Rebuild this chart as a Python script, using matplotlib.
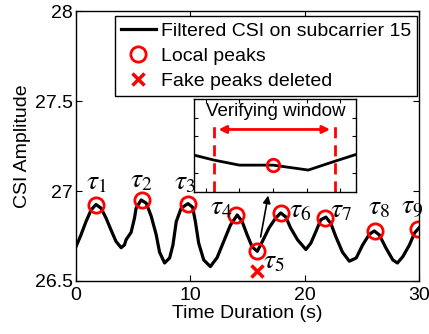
import matplotlib
matplotlib.use("Agg")
import matplotlib.pyplot as plt

plt.rcParams['font.family'] = ['Liberation Sans', 'DejaVu Sans']
plt.rcParams['mathtext.fontset'] = 'stix'

# filtered CSI curve
t = [0, 0.44, 0.88, 1.32, 1.75, 2.19, 2.63, 3.07, 3.5, 3.95, 4.24, 4.39, 4.82, 5.12, 5.26,
     5.7, 6.14, 6.58, 7.02, 7.31, 7.75, 8.19, 8.48, 8.77, 9.2, 9.8, 10.2, 10.44, 10.73,
     11.17, 11.75, 12.34, 12.92, 13.5, 14.1, 14.53, 14.97, 15.4, 15.85, 16.3, 16.87,
     17.46, 17.9, 18.33, 18.77, 19.36, 20.1, 20.53, 20.97, 21.4, 21.85, 22.28, 22.72,
     23.3, 23.9, 24.5, 25.06, 25.65, 26.08, 26.52, 27.1, 27.7, 28.1, 28.57, 29.15, 29.6, 30.0]
csi = [26.69, 26.756, 26.83, 26.894, 26.925, 26.905, 26.85, 26.783, 26.72, 26.685, 26.7,
       26.73, 26.77, 26.85, 26.905, 26.95, 26.933, 26.86, 26.756, 26.66, 26.6, 26.628,
       26.7, 26.83, 26.905, 26.93, 26.91, 26.83, 26.71, 26.617, 26.58, 26.63, 26.72,
       26.81, 26.867, 26.83, 26.756, 26.69, 26.665, 26.72, 26.794, 26.85, 26.878, 26.857,
       26.794, 26.73, 26.675, 26.71, 26.774, 26.84, 26.855, 26.82, 26.746, 26.66, 26.61,
       26.628, 26.7, 26.76, 26.778, 26.756, 26.683, 26.617, 26.6, 26.635, 26.7, 26.767, 26.796]

peak_t = [1.75, 5.75, 9.8, 14.0, 15.8, 17.95, 21.8, 26.1, 29.9]
peak_v = [26.925, 26.95, 26.93, 26.867, 26.665, 26.878, 26.852, 26.78, 26.79]
fake_t = [15.8]
fake_v = [26.555]

# tau label positions
lab_t = [1.8, 5.75, 9.55, 12.7, 17.3, 19.6, 23.2, 26.5, 29.4]
lab_v = [27.05, 27.06, 27.05, 26.91, 26.61, 26.89, 26.89, 26.91, 26.91]

# inset (zoomed view around the verifying window)
in_x = [1.3, 1.9, 2.65, 3.65, 4.7, 5.5, 6.12]
in_y = [0.398, 0.344, 0.29, 0.29, 0.237, 0.333, 0.405]
win = [1.9, 5.48]

fig = plt.figure(figsize=(4.29, 3.34), dpi=100)
ax = fig.add_axes([0.177, 0.1587, 0.8, 0.8083])
ax.plot(t, csi, color='black', lw=2.3, solid_joinstyle='round',
        label='Filtered CSI on subcarrier 15')
ax.plot(peak_t, peak_v, 'o', ms=11, mfc='none', mec='red', mew=2, label='Local peaks')
ax.plot(fake_t, fake_v, 'x', ms=9, mec='red', mew=2.5, label='Fake peaks deleted')
for i in range(len(lab_t)):
    ax.text(lab_t[i], lab_v[i], r'$\tau_{%d}$' % (i + 1), fontsize=20,
            ha='center', va='center')

ax.annotate('', xy=(16.85, 26.99), xytext=(16.1, 26.73),
            arrowprops=dict(arrowstyle='-|>', color='black', lw=1.2,
                            mutation_scale=11))

ax.set_xlim(0, 30)
ax.set_ylim(26.5, 28)
ax.set_xticks([0, 10, 20, 30])
ax.set_yticks([26.5, 27, 27.5, 28])
ax.set_yticklabels(['26.5', '27', '27.5', '28'])
ax.tick_params(direction='in', top=True, right=True, labelsize=14, length=4, pad=2)
ax.tick_params(axis='x', pad=4)
ax.set_xlabel('Time Duration (s)', fontsize=14, labelpad=1)
ax.set_ylabel('CSI Amplitude', fontsize=14, labelpad=3)
for s in ax.spines.values():
    s.set_linewidth(1.0)

leg = ax.legend(loc='upper right', bbox_to_anchor=(0.994, 0.981), fontsize=14,
                frameon=True, fancybox=False, edgecolor='black', framealpha=1,
                handlelength=1.8, handletextpad=0.25, labelspacing=0.38,
                borderpad=0.32, borderaxespad=0)
leg.get_frame().set_linewidth(1.0)

ins = fig.add_axes([0.452, 0.425, 0.378, 0.278])
ins.plot(in_x, in_y, color='black', lw=2)
ins.plot([3.65], [0.29], 'o', ms=9, mfc='none', mec='red', mew=2)
for w in win:
    ins.axvline(w, ymax=0.78, color='red', ls='--', lw=2, dashes=(4, 2.5))
ins.annotate('', xy=(win[0] + 0.05, 0.674), xytext=(win[1] - 0.05, 0.674),
             arrowprops=dict(arrowstyle='<|-|>', color='red', lw=2, mutation_scale=11))
ins.text(3.72, 0.87, 'Verifying window', fontsize=13.5, ha='center', va='center')
ins.set_xlim(1.3, 6.12)
ins.set_ylim(0, 1)
ins.set_xticks([1.65, 2.65, 3.65, 4.65, 5.65])
ins.set_yticks([0.2, 0.4, 0.6, 0.8])
ins.tick_params(direction='in', top=True, right=True, labelbottom=False,
                labelleft=False, length=3)
for s in ins.spines.values():
    s.set_linewidth(1.0)

fig.savefig('out.png', dpi=100)
